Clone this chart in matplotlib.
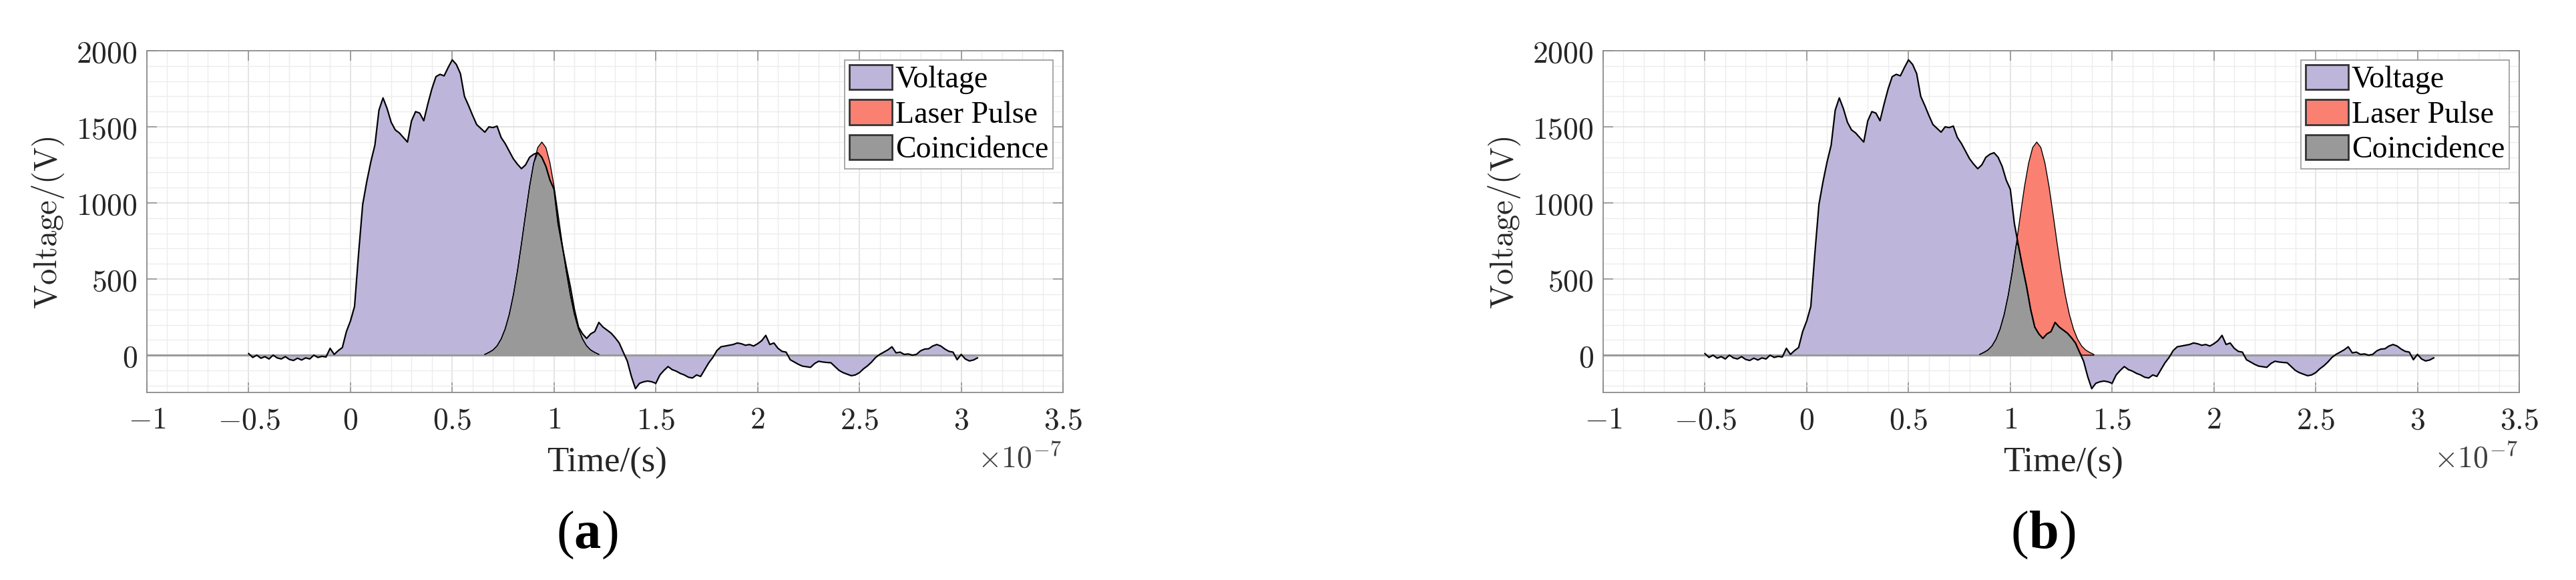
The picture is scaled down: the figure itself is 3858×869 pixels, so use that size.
import numpy as np
import matplotlib
matplotlib.use("Agg")
import matplotlib.pyplot as plt
from matplotlib.ticker import MultipleLocator, FuncFormatter
from matplotlib.patches import Patch
from matplotlib.offsetbox import TextArea, HPacker, AnnotationBbox

plt.rcParams['mathtext.fontset'] = 'cm'
SERIF = ['Liberation Serif', 'DejaVu Serif']

# ---------------- data (time in units of 1e-7 s, voltage in V) ----------------
time_start, time_end, n_samples = -0.50, 3.08, 180
voltage = [
    10, -15, 0, -20, -10, -25, 0, -18, -25, -10,
    -28, -35, -20, -32, -18, -25, 0, -15, -8, -12,
    45, 5, 30, 50, 155, 225, 320, 670, 990, 1140,
    1270, 1380, 1610, 1690, 1620, 1530, 1480, 1460, 1430, 1400,
    1540, 1600, 1590, 1540, 1650, 1750, 1830, 1845, 1835, 1890,
    1940, 1910, 1850, 1700, 1640, 1575, 1515, 1490, 1465, 1500,
    1495, 1505, 1430, 1390, 1340, 1290, 1255, 1225, 1250, 1300,
    1320, 1330, 1300, 1240, 1150, 1090, 865, 720, 580, 450,
    300, 185, 140, 110, 140, 155, 215, 185, 165, 145,
    115, 80, 20, -40, -140, -220, -185, -175, -170, -175,
    -185, -130, -100, -75, -95, -105, -120, -130, -145, -150,
    -130, -140, -95, -50, -15, 30, 55, 60, 65, 70,
    80, 75, 65, 70, 60, 75, 95, 130, 70, 80,
    45, 25, 20, -30, -45, -60, -72, -76, -80, -55,
    -40, -45, -48, -50, -75, -100, -115, -125, -135, -130,
    -115, -90, -70, -45, -15, 5, 20, 35, 55, 15,
    20, 5, 8, 0, 5, 28, 40, 42, 60, 70,
    60, 40, 25, 20, -30, 5, -25, -38, -32, -18,
]
laser_pulse = [5, 18, 34, 61, 106, 173, 268, 395, 552, 734, 926, 1110, 1262, 1364, 1400,
               1364, 1262, 1110, 926, 734, 552, 395, 268, 173, 106, 61, 34, 18, 5]
laser_window_a = (0.66, 1.22)
laser_window_b = (0.85, 1.41)
panel_labels = ['a', 'b']
legend_labels = ['Voltage', 'Laser Pulse', 'Coincidence']
x_ticks = [-1, -0.5, 0, 0.5, 1, 1.5, 2, 2.5, 3, 3.5]
y_ticks = [0, 500, 1000, 1500, 2000]

C_VOLT = '#bdb6da'
C_LASER = '#fa8072'
C_COIN = '#999999'

t = np.linspace(time_start, time_end, n_samples)
v = np.array(voltage, dtype=float)
lp = np.array(laser_pulse, dtype=float)

W, H = 3858, 869
fig = plt.figure(figsize=(W / 100, H / 100), dpi=100)


def fmt(val, pos):
    s = ('%g' % val)
    return r'$%s$' % s


def panel(x0, window, label):
    x1 = x0 + 1372
    ytop, ybot = 76, 588
    ax = fig.add_axes([x0 / W, (H - ybot) / H, (x1 - x0) / W, (ybot - ytop) / H])
    lt = np.linspace(window[0], window[1], len(lp))
    # coincidence on common grid
    tc = np.union1d(t, lt)
    tc = tc[(tc >= lt[0]) & (tc <= lt[-1])]
    vi = np.interp(tc, t, v)
    li = np.interp(tc, lt, lp)
    coin = np.clip(np.minimum(vi, li), 0, None)

    ax.fill_between(t, v, 0, facecolor=C_VOLT, edgecolor='none', zorder=2)
    ax.axhline(0, color='#9a9a9a', lw=2.2, zorder=2.5)
    ax.fill_between(lt, lp, 0, facecolor=C_LASER, edgecolor='none', zorder=3)
    ax.fill_between(tc, coin, 0, facecolor=C_COIN, edgecolor='none', zorder=4)
    ax.plot(lt, lp, color='black', lw=1.0, zorder=5)
    ax.plot(tc, coin, color='black', lw=1.0, zorder=5)
    ax.plot(t, v, color='black', lw=1.6, zorder=6)

    ax.set_xlim(-1, 3.5)
    ax.set_ylim(-245, 2000)
    ax.set_xticks(x_ticks)
    ax.set_yticks(y_ticks)
    ax.xaxis.set_minor_locator(MultipleLocator(0.1))
    ax.yaxis.set_minor_locator(MultipleLocator(100))
    ax.xaxis.set_major_formatter(FuncFormatter(fmt))
    ax.yaxis.set_major_formatter(FuncFormatter(fmt))
    ax.tick_params(which='major', direction='in', length=11, width=1.1,
                   color='#8c8c8c', top=True, right=True, labelsize=33,
                   labelcolor='#262626')
    ax.tick_params(axis='x', which='major', pad=14)
    ax.tick_params(axis='y', which='major', pad=10)
    ax.tick_params(which='minor', length=0, top=True, right=True)
    ax.grid(which='major', color='#dcdcdc', lw=1.1)
    ax.grid(which='minor', color='#ececec', lw=1.0)
    ax.set_axisbelow(True)
    for s in ax.spines.values():
        s.set_color('#8c8c8c')
        s.set_linewidth(1.3)

    handles = [Patch(facecolor=c, edgecolor='#333333', linewidth=2.0)
               for c in (C_VOLT, C_LASER, C_COIN)]
    leg = ax.legend(handles, legend_labels, loc='upper right',
                    bbox_to_anchor=((1577 - 220) / 1372, (588 - 90) / 512),
                    borderaxespad=0, prop={'family': SERIF, 'size': 33},
                    handlelength=1.4, handleheight=0.88, handletextpad=0.1,
                    borderpad=0.15, labelspacing=0.17, fancybox=False,
                    framealpha=1, edgecolor='#a0a0a0')
    leg.get_frame().set_linewidth(1.3)
    leg.set_zorder(10)

    # axis labels and decorations
    fig.text((x0 - 148) / W, (H - 333) / H, r'$\mathrm{Voltage/(V)}$', rotation=90,
             ha='center', va='center', fontsize=35, color='#262626')
    fig.text((x0 + 689) / W, (H - 694) / H, 'Time/(s)', family=SERIF,
             ha='center', va='center', fontsize=38, color='#262626')
    fig.text((x1 - 2) / W, (H - 700) / H, r'$\times10^{-7}$', ha='right',
             va='baseline', fontsize=33, color='#404040')
    parts = [TextArea('(', textprops=dict(family=SERIF, fontsize=58)),
             TextArea(label, textprops=dict(family=SERIF, fontsize=58, weight='bold')),
             TextArea(')', textprops=dict(family=SERIF, fontsize=58))]
    pack = HPacker(children=parts, align='baseline', pad=0, sep=0)
    ab = AnnotationBbox(pack, (x0 + 660, H - 802), xycoords='figure pixels',
                        frameon=False, box_alignment=(0.5, 0.5))
    fig.add_artist(ab)
    return ax


panel(220, laser_window_a, panel_labels[0])
panel(2401, laser_window_b, panel_labels[1])

fig.savefig('out.png', dpi=100, facecolor='white')
